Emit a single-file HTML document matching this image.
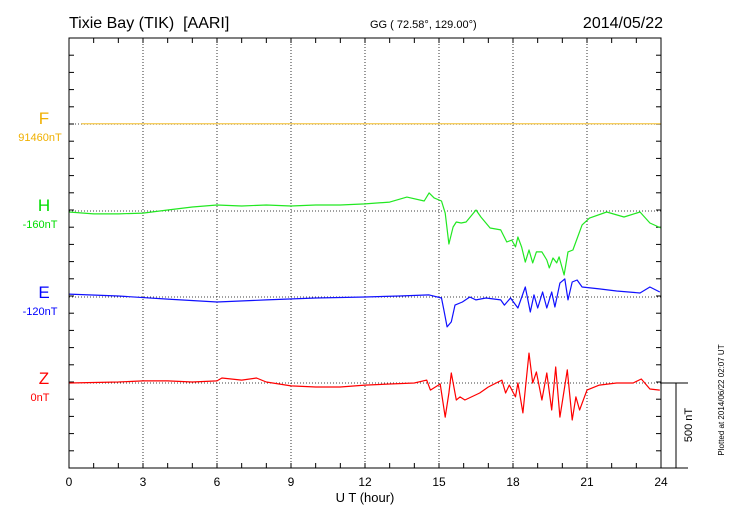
<!DOCTYPE html>
<html><head><meta charset="utf-8"><style>
body{margin:0;background:#fff;font-family:"Liberation Sans",sans-serif}
svg{display:block}
</style></head><body>
<svg id="c" width="730" height="520" xmlns="http://www.w3.org/2000/svg">
<text x="69" y="28" font-size="16" style="white-space:pre">Tixie Bay (TIK)  [AARI]</text>
<text x="370" y="28" font-size="11">GG ( 72.58°, 129.00°)</text>
<text x="663" y="28" font-size="16" text-anchor="end">2014/05/22</text>
<g id="grid"></g>
<g id="series"></g>
<rect x="69" y="38" width="592" height="430" fill="none" stroke="#000" stroke-width="1"/>
<g id="labels">
<text x="44" y="124" font-size="17" fill="#f0b000" text-anchor="middle">F</text>
<text x="40" y="141" font-size="11" fill="#f0b000" text-anchor="middle">91460nT</text>
<text x="44" y="211" font-size="17" fill="#00dd00" text-anchor="middle">H</text>
<text x="40" y="228" font-size="11" fill="#00dd00" text-anchor="middle">-160nT</text>
<text x="44" y="298" font-size="17" fill="#0000ff" text-anchor="middle">E</text>
<text x="40" y="315" font-size="11" fill="#0000ff" text-anchor="middle">-120nT</text>
<text x="44" y="384" font-size="17" fill="#ff0000" text-anchor="middle">Z</text>
<text x="40" y="401" font-size="11" fill="#ff0000" text-anchor="middle">0nT</text>
</g>
<text x="365" y="502" font-size="13" text-anchor="middle">U T (hour)</text>
<g>
<line x1="661" y1="383" x2="688" y2="383" stroke="#000"/>
<line x1="661" y1="468" x2="688" y2="468" stroke="#000"/>
<line x1="676" y1="383" x2="676" y2="468" stroke="#000"/>
<text transform="translate(692,425) rotate(-90)" font-size="11" text-anchor="middle">500 nT</text>
</g>
<text transform="translate(724,400) rotate(-90)" font-size="8" text-anchor="middle">Plotted at 2014/06/22 02:07 UT</text>
</svg>
<script>
const xTicks=[0,3,6,9,12,15,18,21,24];
const fT=[0.5,24];
const fV=[1,1];
const hT=[0,1,2,3,4,5,6,7,8,9,10,11,12,13,13.7,14.4,14.6,14.8,15.1,15.25,15.4,15.57,15.7,15.9,16.1,16.5,16.7,17.07,17.5,17.75,17.95,18.1,18.2,18.35,18.5,18.65,18.8,18.95,19.17,19.37,19.47,19.62,19.77,19.87,20.07,20.23,20.43,20.8,21.1,21.8,22.5,23.15,23.55,24];
const hV=[-6,-17,-17,-12,6,23,35,29,35,29,35,35,41,52,81,58,105,76,58,-12,-192,-93,-64,-70,-64,6,-35,-99,-110,-180,-169,-209,-151,-209,-297,-227,-302,-238,-238,-285,-331,-273,-302,-267,-372,-238,-227,-81,-41,-6,-35,-6,-70,-99];
const eT=[0,2,4,6,8,10,12,13.4,14.6,15.1,15.2,15.33,15.5,15.65,15.95,16.25,16.5,16.9,17.5,17.65,17.9,18.2,18.5,18.7,18.85,19.0,19.2,19.37,19.57,19.7,19.9,20.1,20.23,20.4,20.6,20.8,21.5,22.2,23.15,23.55,23.95];
const eV=[17,6,-12,-29,-17,-6,0,6,12,-6,-76,-174,-145,-47,-29,0,-17,-6,-17,-47,-6,-64,58,-87,12,-64,29,-64,29,-58,81,105,-17,87,99,58,47,35,23,58,29];
const zT=[0,2,3,4,5,6,6.2,7,7.6,8,9,10,11,12,13,14,14.5,14.65,15.05,15.25,15.4,15.5,15.7,15.85,16.05,16.65,17.0,17.55,17.7,17.85,18.1,18.2,18.4,18.65,18.8,18.95,19.17,19.37,19.57,19.73,19.9,20.03,20.2,20.4,20.55,20.7,21.0,21.5,22.2,22.87,23.2,23.55,23.95];
const zV=[0,6,12,12,6,12,29,17,29,6,-17,-23,-23,-12,-6,0,17,-41,-6,-198,-58,58,-99,-81,-99,-58,-23,17,-58,-12,-81,0,-174,174,0,64,-99,58,-157,93,-198,-81,76,-215,-81,-157,-41,-12,0,0,23,-35,-41];
const X0=69,X1=661,PXNT=0.172;
const x=h=>X0+h*(X1-X0)/24;
const y=(base,v)=>base-v*PXNT;
const NS="http://www.w3.org/2000/svg";
const grid=document.getElementById('grid'),ser=document.getElementById('series');
function mk(tag,attrs,parent){const e=document.createElementNS(NS,tag);for(const k in attrs)e.setAttribute(k,attrs[k]);parent.appendChild(e);return e;}
xTicks.forEach((t,i)=>{
  if(i>0&&i<xTicks.length-1){const l=mk('line',{x1:x(t),x2:x(t),y1:38,y2:468,stroke:'#000','stroke-dasharray':'1,2','stroke-width':0.8},grid);
  
  }
  const tx=mk('text',{x:x(t),y:486,'font-size':12,'text-anchor':'middle'},grid);
  
  
  tx.textContent=t;
});
for(let h=1;h<24;h++){
  mk('line',{x1:x(h),x2:x(h),y1:38,y2:43,stroke:'#000'},grid);
  mk('line',{x1:x(h),x2:x(h),y1:468,y2:463,stroke:'#000'},grid);
}
for(let k=1;k<25;k++){const yy=38+k*17.2;
  mk('line',{x1:69,x2:74,y1:yy,y2:yy,stroke:'#000'},grid);
  mk('line',{x1:661,x2:656,y1:yy,y2:yy,stroke:'#000'},grid);}
[124,211,297,383].forEach(b=>{const l=mk('line',{x1:69,x2:661,y1:b,y2:b,stroke:'#000','stroke-dasharray':'1,2','stroke-width':0.8},grid);
  
  });
function line(T,V,base,color,name,w){
  const d=T.map((t,i)=>(i?'L':'M')+x(t).toFixed(1)+','+y(base,V[i]).toFixed(1)).join('');
  const p=mk('path',{d:d,fill:'none',stroke:color,'stroke-width':w,'stroke-linejoin':'round'},ser);
  
  
}
line(fT,fV,124,'#f0b000','f-trace',0.8);
line(hT,hV,211,'#22e822','h-trace',1.2);
line(eT,eV,297,'#1010ff','e-trace',1.2);
line(zT,zV,383,'#ff0000','z-trace',1.2);
</script>
</body></html>
